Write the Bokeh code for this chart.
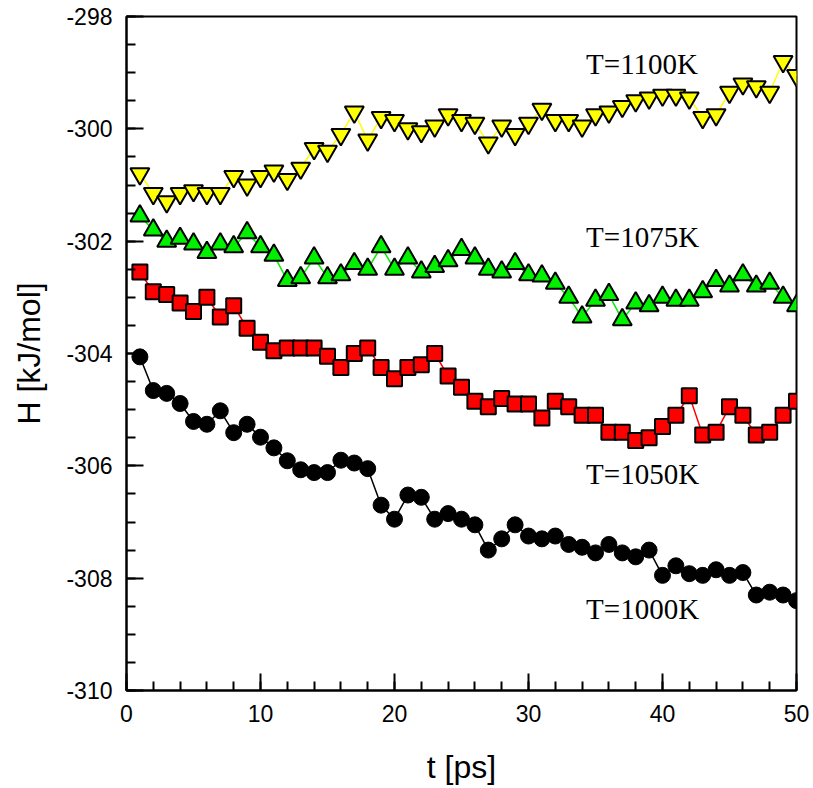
from bokeh.plotting import figure
from bokeh.models import FixedTicker, Range1d, Label
from bokeh.embed import file_html
from bokeh.resources import INLINE

t = list(range(1, 51))

h_1000 = [-304.06, -304.66, -304.71, -304.89, -305.21, -305.26, -305.02, -305.41, -305.26, -305.49,
          -305.68, -305.91, -306.07, -306.12, -306.12, -305.9, -305.95, -306.05, -306.7, -306.95,
          -306.52, -306.56, -306.95, -306.85, -306.95, -307.05, -307.5, -307.3, -307.05, -307.25,
          -307.3, -307.25, -307.4, -307.45, -307.55, -307.4, -307.55, -307.62, -307.5, -307.95,
          -307.78, -307.92, -307.95, -307.85, -307.95, -307.9, -308.3, -308.25, -308.3, -308.4]

h_1050 = [-302.55, -302.9, -302.95, -303.1, -303.25, -303.0, -303.35, -303.15, -303.55, -303.8,
          -303.95, -303.9, -303.9, -303.9, -304.05, -304.25, -304.0, -303.9, -304.25, -304.45,
          -304.25, -304.2, -304.0, -304.4, -304.6, -304.85, -304.95, -304.8, -304.9, -304.9,
          -305.15, -304.85, -304.95, -305.1, -305.1, -305.4, -305.4, -305.55, -305.5, -305.3,
          -305.1, -304.75, -305.45, -305.4, -304.95, -305.1, -305.45, -305.4, -305.1, -304.85]

h_1075 = [-301.55, -301.8, -302.0, -301.95, -302.05, -302.2, -302.05, -302.1, -301.85, -302.1,
          -302.25, -302.7, -302.65, -302.3, -302.65, -302.6, -302.4, -302.5, -302.1, -302.5,
          -302.3, -302.55, -302.45, -302.35, -302.15, -302.3, -302.5, -302.55, -302.4, -302.6,
          -302.62, -302.75, -303.0, -303.35, -303.05, -302.95, -303.4, -303.1, -303.15, -303.0,
          -303.05, -303.05, -302.9, -302.7, -302.8, -302.6, -302.8, -302.75, -303.0, -303.15]

h_1100 = [-300.8, -301.15, -301.3, -301.15, -301.1, -301.15, -301.15, -300.85, -301.0, -300.85,
          -300.75, -300.9, -300.7, -300.35, -300.4, -300.1, -299.7, -300.2, -299.8, -299.85,
          -300.0, -300.05, -299.95, -299.75, -299.85, -299.9, -300.25, -299.95, -300.1, -299.9,
          -299.65, -299.85, -299.85, -299.95, -299.75, -299.7, -299.6, -299.5, -299.45, -299.4,
          -299.4, -299.45, -299.8, -299.75, -299.35, -299.2, -299.25, -299.35, -298.8, -299.05]

series_labels = ["T=1100K", "T=1075K", "T=1050K", "T=1000K"]
label_x = [34.3, 34.3, 34.3, 34.3]
label_y = [-298.85, -301.92, -306.15, -308.55]

x_ticks = [0, 10, 20, 30, 40, 50]
y_ticks = [-310, -308, -306, -304, -302, -300, -298]

p = figure(width=813, height=788, output_backend="svg", toolbar_location=None,
           x_range=Range1d(0, 50), y_range=Range1d(-310, -298),
           min_border_left=126, min_border_right=17, min_border_top=16, min_border_bottom=98)
p.background_fill_color = "white"
p.border_fill_color = "white"
p.grid.visible = False
p.outline_line_color = "black"
p.outline_line_width = 2

axis_font = "Liberation Sans"
for ax in (p.xaxis[0], p.yaxis[0]):
    ax.axis_line_width = 2
    ax.axis_line_color = "black"
    ax.major_tick_in = 17
    ax.major_tick_out = 0
    ax.minor_tick_in = 9
    ax.minor_tick_out = 0
    ax.major_tick_line_width = 2
    ax.minor_tick_line_width = 2
    ax.major_label_text_font = axis_font
    ax.major_label_text_font_size = "23px"
    ax.major_label_text_color = "black"
    ax.axis_label_text_font = axis_font
    ax.axis_label_text_font_size = "32px"
    ax.axis_label_text_font_style = "normal"
    ax.axis_label_text_color = "black"

p.xaxis.ticker = FixedTicker(ticks=x_ticks, minor_ticks=list(range(0, 51, 2)))
p.yaxis.ticker = FixedTicker(ticks=y_ticks, minor_ticks=[-310 + 0.5 * i for i in range(25)])
p.yaxis.major_label_overrides = {v: str(v) for v in y_ticks}
p.xaxis.major_label_overrides = {v: str(v) for v in x_ticks}
p.xaxis.axis_label = "t [ps]"
p.yaxis.axis_label = "H [kJ/mol]"
p.xaxis.major_label_standoff = 14
p.yaxis.major_label_standoff = 14
p.xaxis.axis_label_standoff = 24
p.yaxis.axis_label_standoff = 16

# lines
p.line(t, h_1100, line_color="#FFFF00", line_width=1.5)
p.line(t, h_1075, line_color="#00F000", line_width=1.5)
p.line(t, h_1050, line_color="#FF0000", line_width=1.5)
p.line(t, h_1000, line_color="black", line_width=1.5)

# markers
p.scatter(t, h_1100, marker="inverted_triangle", size=19, fill_color="#FFFF00",
          line_color="black", line_width=2)
p.scatter(t, h_1075, marker="triangle", size=19, fill_color="#00F000",
          line_color="black", line_width=2)
p.scatter(t, h_1050, marker="square", size=15, fill_color="#FF0000",
          line_color="black", line_width=2)
p.scatter(t, h_1000, marker="circle", size=16, fill_color="black",
          line_color="black", line_width=1)

for lab, lx, ly in zip(series_labels, label_x, label_y):
    p.add_layout(Label(x=lx, y=ly, text=lab, text_font="Liberation Serif",
                       text_font_size="29px", text_color="black",
                       text_baseline="middle", text_align="left"))

html = file_html(p, INLINE)
open("out.html", "w").write(html)
